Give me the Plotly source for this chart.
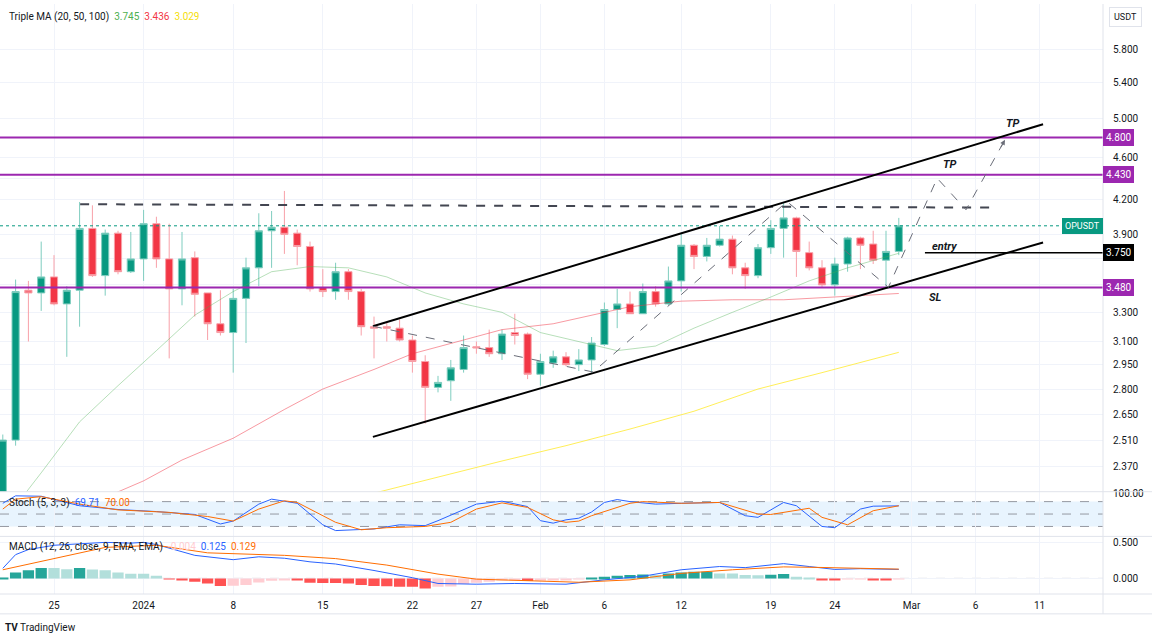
import numpy as np
import pandas as pd
import plotly.graph_objects as go

# ---------------- data ----------------
candle_dates = pd.date_range("2023-12-21", "2024-02-29", freq="D")
opens = [2.22, 2.51, 3.46, 3.44, 3.56, 3.36, 3.46, 3.95, 3.57, 3.91, 3.60, 3.70, 3.99, 3.70, 3.47,
         3.71, 3.44, 3.22, 3.16, 3.40, 3.63, 3.93, 3.96, 3.91, 3.80, 3.48, 3.45, 3.60, 3.45,
         3.20, 3.20, 3.19, 3.11, 2.97, 2.81, 2.85, 2.92, 3.065, 3.06, 3.02, 3.16, 3.15, 2.89,
         2.96, 3.00, 2.95, 2.98, 3.08, 3.32, 3.36, 3.29, 3.45, 3.36, 3.53, 3.81, 3.72, 3.81,
         3.86, 3.63, 3.57, 3.79, 3.95, 4.04, 3.75, 3.63, 3.50, 3.66, 3.87, 3.82, 3.69, 3.76]
highs = [2.54, 3.54, 3.53, 3.84, 3.73, 3.49, 4.18, 4.15, 3.94, 3.93, 3.92, 4.11, 4.05, 3.99, 3.92,
         3.76, 3.44, 3.46, 3.47, 3.71, 4.08, 4.10, 4.28, 3.94, 3.84, 3.62, 3.67, 3.62, 3.47,
         3.27, 3.23, 3.25, 3.14, 3.01, 2.88, 2.98, 3.14, 3.10, 3.18, 3.18, 3.29, 3.16, 3.02,
         3.04, 3.03, 3.05, 3.13, 3.37, 3.47, 3.45, 3.51, 3.49, 3.64, 3.91, 3.82, 3.87, 3.97,
         3.89, 3.67, 3.82, 4.02, 4.18, 4.05, 3.84, 3.69, 3.71, 3.88, 3.88, 3.93, 3.93, 4.04]
lows = [2.18, 2.48, 3.10, 3.31, 3.35, 3.00, 3.20, 3.56, 3.42, 3.58, 3.59, 3.53, 3.63, 2.99, 3.35,
        3.27, 3.11, 3.14, 2.90, 3.09, 3.49, 3.63, 3.74, 3.65, 3.45, 3.41, 3.39, 3.39, 3.14,
        2.99, 3.10, 3.10, 2.90, 2.60, 2.78, 2.73, 2.90, 3.02, 3.00, 2.98, 3.08, 2.86, 2.82,
        2.93, 2.94, 2.91, 2.90, 3.07, 3.19, 3.29, 3.29, 3.34, 3.35, 3.45, 3.62, 3.68, 3.80,
        3.58, 3.47, 3.55, 3.74, 3.71, 3.56, 3.61, 3.48, 3.42, 3.60, 3.62, 3.66, 3.48, 3.73]
closes = [2.51, 3.45, 3.44, 3.56, 3.36, 3.46, 3.95, 3.57, 3.91, 3.60, 3.70, 3.99, 3.70, 3.47, 3.70,
          3.43, 3.22, 3.16, 3.40, 3.63, 3.93, 3.96, 3.90, 3.80, 3.47, 3.45, 3.60, 3.45, 3.20,
          3.19, 3.19, 3.11, 2.97, 2.81, 2.84, 2.93, 3.06, 3.058, 3.02, 3.15, 3.14, 2.89, 2.97,
          3.00, 2.95, 2.98, 3.09, 3.32, 3.36, 3.29, 3.45, 3.36, 3.53, 3.81, 3.72, 3.81, 3.86,
          3.63, 3.57, 3.79, 3.95, 4.04, 3.76, 3.63, 3.50, 3.66, 3.87, 3.81, 3.69, 3.76, 3.972]

ma20_dates = ["2023-12-22", "2023-12-24", "2023-12-27", "2023-12-30", "2024-01-02", "2024-01-05",
              "2024-01-08", "2024-01-11", "2024-01-14", "2024-01-17", "2024-01-20", "2024-01-23",
              "2024-01-26", "2024-01-29", "2024-02-01", "2024-02-04", "2024-02-07", "2024-02-10",
              "2024-02-13", "2024-02-16", "2024-02-19", "2024-02-22", "2024-02-25", "2024-02-29"]
ma20_vals = [2.18, 2.34, 2.61, 2.82, 3.04, 3.28, 3.45, 3.60, 3.64, 3.63, 3.56, 3.44,
             3.36, 3.30, 3.16, 3.10, 3.04, 3.07, 3.19, 3.30, 3.41, 3.53, 3.63, 3.745]
ma50_dates = ["2023-12-29", "2024-01-01", "2024-01-04", "2024-01-08", "2024-01-12", "2024-01-15",
              "2024-01-19", "2024-01-22", "2024-01-26", "2024-01-29", "2024-02-02", "2024-02-05",
              "2024-02-08", "2024-02-12", "2024-02-16", "2024-02-20", "2024-02-24", "2024-02-29"]
ma50_vals = [2.22, 2.30, 2.405, 2.52, 2.68, 2.80, 2.92, 3.02, 3.11, 3.18, 3.22, 3.28,
             3.34, 3.38, 3.39, 3.39, 3.41, 3.436]
ma100_dates = ["2024-01-19", "2024-01-24", "2024-01-29", "2024-02-03", "2024-02-08", "2024-02-13",
               "2024-02-18", "2024-02-23", "2024-02-29"]
ma100_vals = [2.24, 2.32, 2.40, 2.48, 2.57, 2.67, 2.80, 2.90, 3.029]

k_dates = ["2023-12-21", "2023-12-22", "2023-12-24", "2023-12-27", "2023-12-30", "2024-01-02",
           "2024-01-05", "2024-01-07", "2024-01-08", "2024-01-10", "2024-01-11", "2024-01-13",
           "2024-01-15", "2024-01-16", "2024-01-19", "2024-01-21", "2024-01-23", "2024-01-24",
           "2024-01-27", "2024-01-29", "2024-01-31", "2024-02-01", "2024-02-02", "2024-02-03",
           "2024-02-04", "2024-02-05", "2024-02-06", "2024-02-07", "2024-02-08", "2024-02-10",
           "2024-02-12", "2024-02-15", "2024-02-17", "2024-02-18", "2024-02-20", "2024-02-21",
           "2024-02-23", "2024-02-24", "2024-02-26", "2024-02-27", "2024-02-29"]
k_vals = [76, 94, 93, 70, 61, 56, 49, 26, 33, 74, 86, 76, 24, 10, 14, 24, 22, 34, 74, 81,
          68, 34, 28, 36, 40, 55, 78, 85, 80, 74, 76, 78, 46, 42, 78, 70, 20, 17, 62, 69, 69.71]
d_dates = ["2023-12-21", "2023-12-22", "2023-12-24", "2023-12-25", "2023-12-27", "2023-12-30",
           "2024-01-03", "2024-01-06", "2024-01-08", "2024-01-10", "2024-01-12", "2024-01-13",
           "2024-01-16", "2024-01-18", "2024-01-20", "2024-01-23", "2024-01-25", "2024-01-27",
           "2024-01-29", "2024-01-31", "2024-02-02", "2024-02-03", "2024-02-04", "2024-02-05",
           "2024-02-08", "2024-02-09", "2024-02-12", "2024-02-15", "2024-02-18", "2024-02-19",
           "2024-02-22", "2024-02-23", "2024-02-25", "2024-02-27", "2024-02-29"]
d_vals = [62, 86, 92, 86, 74, 60, 54, 44, 33, 62, 82, 78, 30, 12, 17, 20, 30, 62, 77, 66,
          36, 30, 33, 46, 76, 80, 76, 78, 50, 49, 64, 42, 24, 58, 70.00]

macd_dates = ["2023-12-21", "2023-12-22", "2023-12-23", "2023-12-25", "2023-12-29", "2023-12-31",
              "2024-01-01", "2024-01-02", "2024-01-05", "2024-01-08", "2024-01-10", "2024-01-12",
              "2024-01-14", "2024-01-16", "2024-01-19", "2024-01-22", "2024-01-24", "2024-01-27",
              "2024-01-30", "2024-02-03", "2024-02-06", "2024-02-09", "2024-02-12", "2024-02-15",
              "2024-02-17", "2024-02-20", "2024-02-22", "2024-02-24", "2024-02-26", "2024-02-29"]
macd_vals = [0.14, 0.33, 0.40, 0.46, 0.50, 0.49, 0.50, 0.47, 0.32, 0.26, 0.30, 0.28,
             0.23, 0.20, 0.11, 0.01, -0.07, -0.08, -0.07, -0.08, -0.02, 0.03, 0.12, 0.165,
             0.15, 0.205, 0.165, 0.125, 0.135, 0.125]
signal_dates = ["2023-12-21", "2023-12-25", "2023-12-29", "2024-01-02", "2024-01-06", "2024-01-12",
                "2024-01-16", "2024-01-20", "2024-01-24", "2024-01-27", "2024-01-31", "2024-02-04",
                "2024-02-08", "2024-02-12", "2024-02-16", "2024-02-20", "2024-02-23", "2024-02-29"]
signal_vals = [0.12, 0.275, 0.43, 0.46, 0.355, 0.32, 0.275, 0.185, 0.06, -0.01, -0.035, -0.053,
               -0.02, 0.07, 0.12, 0.16, 0.152, 0.129]
hist_vals = [0.014, 0.083, 0.114, 0.146, 0.146, 0.128, 0.146, 0.124, 0.114, 0.083, 0.064, 0.064, 0.037, -0.004, -0.014,
             -0.046, -0.069, -0.106, -0.100, -0.092, -0.055, -0.032, -0.023, -0.025, -0.060, -0.062, -0.064, -0.069, -0.092,
             -0.106, -0.108, -0.115, -0.117, -0.138, -0.115, -0.112, -0.078, -0.060, -0.046, -0.023, -0.021, -0.037, -0.032,
             -0.023, -0.020, -0.010, 0.005, 0.023, 0.037, 0.046, 0.055, 0.046, 0.069, 0.083, 0.092, 0.094, 0.069,
             0.068, 0.046, 0.045, 0.050, 0.060, 0.023, 0.014, -0.014, -0.023, -0.009, -0.008, -0.020, -0.024, -0.004]

# drawings
channel_x = ["2024-01-18 22:00", "2024-03-11 06:30"]
channel_upper = [3.203, 4.938]
channel_lower = [2.527, 3.833]
path_x = ["2024-01-18 22:00", "2024-02-05 03:00", "2024-02-20 06:30", "2024-02-28 04:30",
          "2024-03-03 00:00", "2024-03-05 06:00", "2024-03-08 07:00"]
path_y = [3.203, 2.904, 4.184, 3.482, 4.398, 4.111, 4.775]
resist_x = ["2023-12-27 01:00", "2024-03-07 02:30"]
resist_y = [4.16, 4.13]
purple_levels = [4.80, 4.43, 3.48]
entry_level = 3.75
entry_start = "2024-03-02 01:00"

x_tick_vals = ["2023-12-25", "2024-01-01", "2024-01-08", "2024-01-15", "2024-01-22", "2024-01-27",
               "2024-02-01", "2024-02-06", "2024-02-12", "2024-02-19", "2024-02-24", "2024-03-01",
               "2024-03-06", "2024-03-11"]
x_tick_text = ["25", "2024", "8", "15", "22", "27", "Feb", "6", "12", "19", "24", "Mar", "6", "11"]
price_ticks = [2.37, 2.51, 2.65, 2.80, 2.95, 3.10, 3.30, 3.50, 3.70, 3.90, 4.20, 4.40, 4.60, 4.80, 5.00, 5.40, 5.80]
hidden_ticks = [3.50, 3.70, 4.40, 4.80]   # covered by level labels in the reference

# ---------------- styling constants ----------------
X0, X1 = "2023-12-20 18:45", "2024-03-15 22:52"
Y_LO, Y_HI = 2.2472, 6.388
PLOT_H = 594.0
def py(pix):
    return (PLOT_H - pix) / PLOT_H
FONT = "Roboto, Open Sans, sans-serif"
TXT = "#131722"
GRID = "#f0f3fa"
GREEN, RED = "#089981", "#f23645"
PURPLE = "#9c27b0"

fig = go.Figure()

# moving averages
fig.add_trace(go.Scatter(x=ma100_dates, y=ma100_vals, mode="lines",
                         line=dict(color="rgba(255,235,59,0.85)", width=1), yaxis="y", hoverinfo="skip"))
fig.add_trace(go.Scatter(x=ma50_dates, y=ma50_vals, mode="lines",
                         line=dict(color="rgba(242,54,69,0.5)", width=1), yaxis="y", hoverinfo="skip"))
fig.add_trace(go.Scatter(x=ma20_dates, y=ma20_vals, mode="lines",
                         line=dict(color="rgba(76,175,80,0.4)", width=1), yaxis="y", hoverinfo="skip"))

# horizontal levels
for lv in purple_levels:
    fig.add_trace(go.Scatter(x=[X0, X1], y=[lv, lv], mode="lines",
                             line=dict(color=PURPLE, width=2), yaxis="y", hoverinfo="skip"))
fig.add_trace(go.Scatter(x=[X0, X1], y=[closes[-1], closes[-1]], mode="lines",
                         line=dict(color=GREEN, width=1, dash="dot"), yaxis="y", hoverinfo="skip"))
fig.add_trace(go.Scatter(x=resist_x, y=resist_y, mode="lines",
                         line=dict(color="#434651", width=2, dash="dash"), yaxis="y", hoverinfo="skip"))
fig.add_trace(go.Scatter(x=[entry_start, X1], y=[entry_level, entry_level], mode="lines",
                         line=dict(color="#000000", width=1.5), yaxis="y", hoverinfo="skip"))
# channel
fig.add_trace(go.Scatter(x=channel_x, y=channel_upper, mode="lines",
                         line=dict(color="#000000", width=2), yaxis="y", hoverinfo="skip"))
fig.add_trace(go.Scatter(x=channel_x, y=channel_lower, mode="lines",
                         line=dict(color="#000000", width=2), yaxis="y", hoverinfo="skip"))
# projection path
fig.add_trace(go.Scatter(x=path_x, y=path_y, mode="lines",
                         line=dict(color="#6a6d78", width=1, dash="dash"), yaxis="y", hoverinfo="skip"))

# candles
fig.add_trace(go.Candlestick(x=candle_dates, open=opens, high=highs, low=lows, close=closes,
                             increasing=dict(line=dict(color="#7fcdbf", width=1), fillcolor=GREEN),
                             decreasing=dict(line=dict(color="#f8a0a8", width=1), fillcolor=RED),
                             whiskerwidth=0, yaxis="y", hoverinfo="skip"))

# stochastic
fig.add_trace(go.Scatter(x=k_dates, y=k_vals, mode="lines", line=dict(color="#2962ff", width=1),
                         yaxis="y2", hoverinfo="skip"))
fig.add_trace(go.Scatter(x=d_dates, y=d_vals, mode="lines", line=dict(color="#ff6d00", width=1),
                         yaxis="y2", hoverinfo="skip"))

# MACD
hist_colors = []
for i, h in enumerate(hist_vals):
    prev = hist_vals[i - 1] if i > 0 else h - 1
    if h >= 0:
        hist_colors.append("#26a69a" if h > prev else "#b2dfdb")
    else:
        hist_colors.append("#ff5252" if h < prev else "#ffcdd2")
fig.add_trace(go.Bar(x=candle_dates, y=hist_vals, marker=dict(color=hist_colors, line=dict(width=0)),
                     width=0.88 * 86400000, yaxis="y3", hoverinfo="skip"))
fig.add_trace(go.Scatter(x=macd_dates, y=macd_vals, mode="lines", line=dict(color="#2962ff", width=1),
                         yaxis="y3", hoverinfo="skip"))
fig.add_trace(go.Scatter(x=signal_dates, y=signal_vals, mode="lines", line=dict(color="#ff6d00", width=1),
                         yaxis="y3", hoverinfo="skip"))

shapes = []
# stoch band + dashed levels
shapes.append(dict(type="rect", xref="paper", yref="y2", x0=0, x1=1, y0=20, y1=80,
                   fillcolor="rgba(33,150,243,0.1)", line=dict(width=0), layer="below"))
for lv in (80, 50, 20):
    shapes.append(dict(type="line", xref="paper", yref="y2", x0=0, x1=1, y0=lv, y1=lv,
                       line=dict(color="#9598a1", width=1, dash="dash"), layer="below"))
shapes.append(dict(type="line", xref="paper", yref="y3", x0=0, x1=1, y0=0, y1=0,
                   line=dict(color="#9598a1", width=1, dash="dash"), layer="below"))
# pane separators / borders
W_EXT = 1152 / 1103.0
for pix in (491, 536, 594):
    shapes.append(dict(type="line", xref="paper", yref="paper", x0=0, x1=W_EXT, y0=py(pix), y1=py(pix),
                       line=dict(color="#e0e3eb", width=1)))
shapes.append(dict(type="line", xref="paper", yref="paper", x0=1, x1=1, y0=py(614), y1=1,
                   line=dict(color="#e0e3eb", width=1)))
shapes.append(dict(type="line", xref="paper", yref="paper", x0=0, x1=W_EXT, y0=py(614), y1=py(614),
                   line=dict(color="#e0e3eb", width=1)))

ann = []
def lg(v):
    return float(np.log10(v))
# legends
ann.append(dict(xref="paper", yref="paper", x=7 / 1103, y=py(13), xanchor="left", yanchor="middle",
                showarrow=False, font=dict(size=10, color=TXT, family=FONT),
                text=("Triple MA (20, 50, 100)&nbsp;&nbsp;<span style='color:#4caf50'>%.3f</span>&nbsp;&nbsp;"
                      "<span style='color:#f23645'>%.3f</span>&nbsp;&nbsp;<span style='color:#f5de0a'>%.3f</span>")
                     % (ma20_vals[-1], ma50_vals[-1], ma100_vals[-1])))
ann.append(dict(xref="paper", yref="paper", x=7 / 1103, y=py(502), xanchor="left", yanchor="middle",
                showarrow=False, font=dict(size=10, color=TXT, family=FONT),
                text=("Stoch (5, 3, 3)&nbsp;&nbsp;<span style='color:#2962ff'>%.2f</span>&nbsp;&nbsp;"
                      "<span style='color:#ff6d00'>%.2f</span>") % (k_vals[-1], d_vals[-1])))
ann.append(dict(xref="paper", yref="paper", x=7 / 1103, y=py(547), xanchor="left", yanchor="middle",
                showarrow=False, font=dict(size=10, color=TXT, family=FONT),
                text=("MACD (12, 26, close, 9, EMA, EMA)&nbsp;&nbsp;<span style='color:#ffcdd2'>%.3f</span>&nbsp;&nbsp;"
                      "<span style='color:#2962ff'>%.3f</span>&nbsp;&nbsp;<span style='color:#ff6d00'>%.3f</span>")
                     % (hist_vals[-1], macd_vals[-1], signal_vals[-1])))
# right-axis level labels
for lv, col in [(4.80, PURPLE), (4.43, PURPLE), (entry_level, "#000000"), (3.48, PURPLE)]:
    ann.append(dict(xref="paper", yref="y", x=1.0, y=lg(lv), xanchor="left", yanchor="middle",
                    showarrow=False, text="%.3f" % lv, bgcolor=col, bordercolor=col, borderwidth=1,
                    borderpad=2, font=dict(size=10, color="white", family=FONT)))
ann.append(dict(xref="paper", yref="y", x=1.0, y=lg(closes[-1]), xanchor="right", yanchor="middle",
                showarrow=False, text="OPUSDT", bgcolor=GREEN, bordercolor=GREEN, borderwidth=1,
                borderpad=2, font=dict(size=9, color="white", family=FONT)))
# drawing texts
for tx, xx, yy in [("TP", "2024-03-04 00:00", 4.528), ("TP", "2024-03-08 22:00", 4.948),
                   ("entry", "2024-03-03 14:30", 3.800), ("SL", "2024-03-02 20:00", 3.408)]:
    ann.append(dict(xref="x", yref="y", x=xx, y=lg(yy), showarrow=False,
                    text="<b><i>%s</i></b>" % tx, font=dict(size=11, color=TXT, family=FONT)))
# arrow head at end of projection
ann.append(dict(xref="x", yref="y", x=path_x[-1], y=lg(path_y[-1]), ax=-5, ay=9, text="",
                showarrow=True, arrowhead=2, arrowsize=1, arrowwidth=1, arrowcolor="#6a6d78"))
# USDT badge + logo
ann.append(dict(xref="paper", yref="paper", x=1125 / 1103, y=py(13), xanchor="center", yanchor="middle",
                showarrow=False, text="USDT", bordercolor="#e0e3eb", borderwidth=1, borderpad=4,
                font=dict(size=9, color=TXT, family=FONT)))
ann.append(dict(xref="paper", yref="paper", x=3 / 1103, y=py(628), xanchor="left", yanchor="middle",
                showarrow=False, text="<b>TV</b> TradingView", font=dict(size=10, color=TXT, family=FONT)))

axis_font = dict(size=10, color=TXT, family=FONT)
fig.update_layout(
    width=1152, height=639, margin=dict(l=0, r=49, t=0, b=45),
    paper_bgcolor="white", plot_bgcolor="white", showlegend=False, boxgap=0.2,
    hovermode=False,
    xaxis=dict(type="date", range=[X0, X1], anchor="y3", tickvals=x_tick_vals, ticktext=x_tick_text,
               showgrid=True, gridcolor=GRID, ticks="outside", ticklen=2, tickcolor="rgba(0,0,0,0)",
               tickfont=axis_font, zeroline=False,
               showline=False, rangeslider=dict(visible=False), fixedrange=True),
    yaxis=dict(domain=[py(491), 1.0], type="log", range=[lg(Y_LO), lg(Y_HI)], side="right", anchor="x",
               tickvals=price_ticks,
               ticktext=["" if v in hidden_ticks else "%.3f" % v for v in price_ticks], showgrid=True,
               gridcolor=GRID, ticks="outside", ticklen=7, tickcolor="rgba(0,0,0,0)", tickfont=axis_font,
               zeroline=False, showline=False),
    yaxis2=dict(domain=[py(536), py(491)], range=[-4, 104], side="right", anchor="x",
                tickvals=[100], ticktext=["100.00"], showgrid=False, ticks="outside", ticklen=7,
                tickcolor="rgba(0,0,0,0)", tickfont=axis_font, zeroline=False, showline=False),
    yaxis3=dict(domain=[0, py(536)], range=[-0.216, 0.583], side="right", anchor="x",
                tickvals=[0, 0.5], ticktext=["0.000", "0.500"], showgrid=True, gridcolor=GRID,
                ticks="outside", ticklen=7, tickcolor="rgba(0,0,0,0)", tickfont=axis_font,
                zeroline=False, showline=False),
    shapes=shapes, annotations=ann,
)

fig.write_html("out.html", config={"displayModeBar": False},
               post_script="document.body.style.margin='0px';document.body.style.overflow='hidden';")
